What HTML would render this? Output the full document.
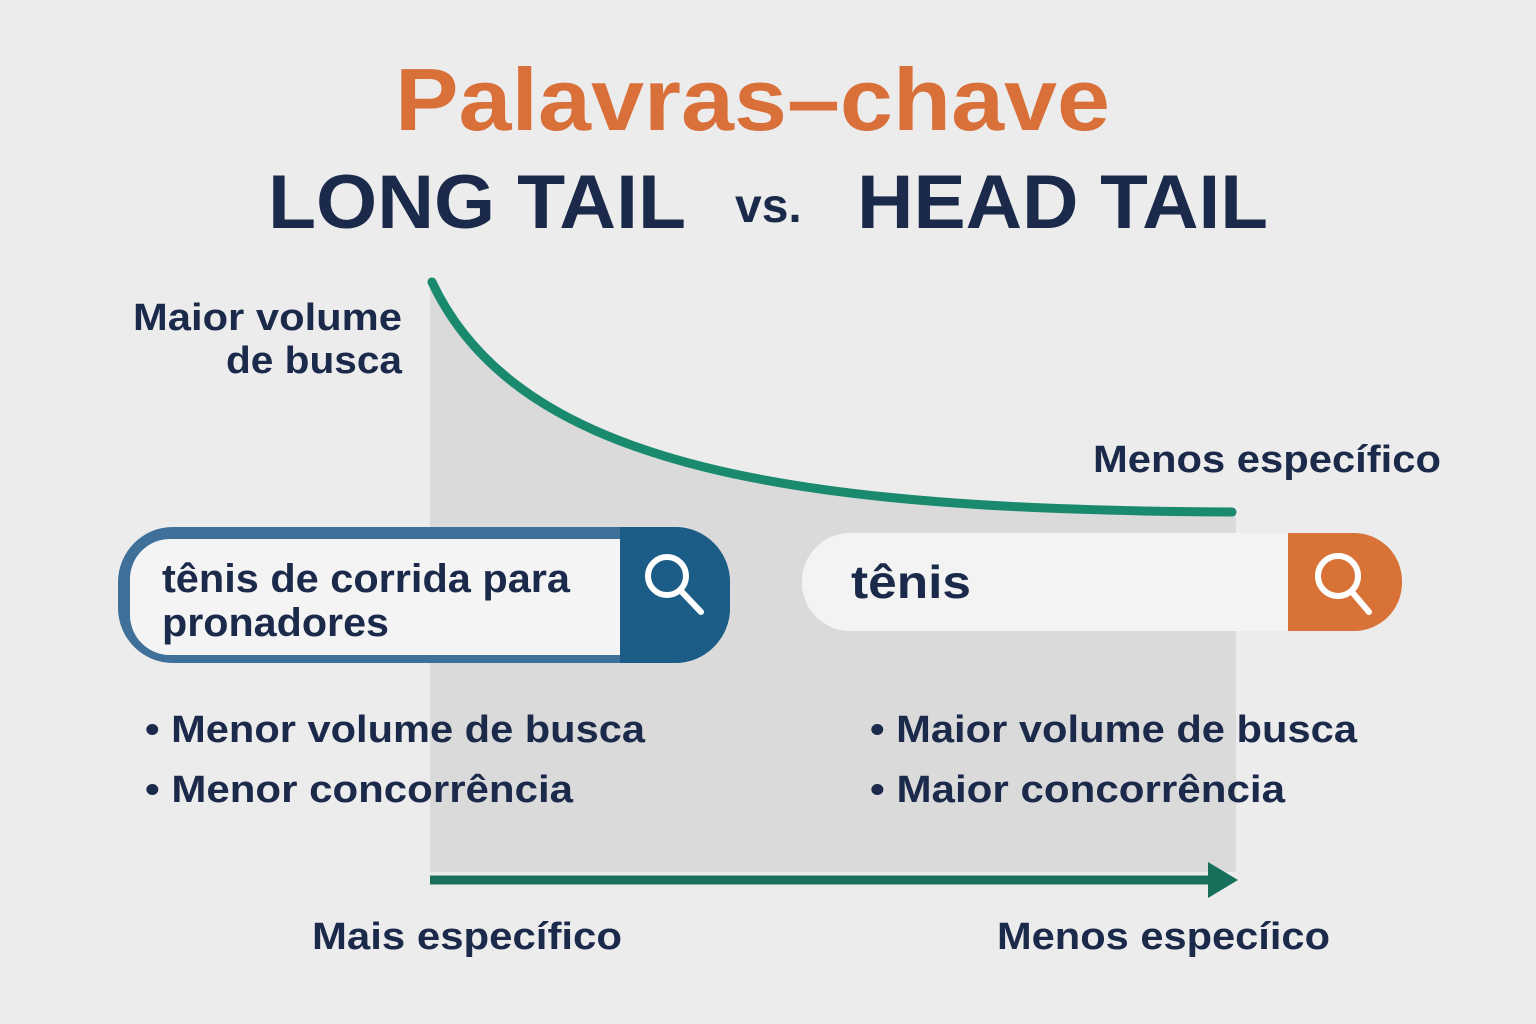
<!DOCTYPE html>
<html><head><meta charset="utf-8"><style>
html,body{margin:0;padding:0;background:#ececec;}
svg{display:block;}
text{font-family:"Liberation Sans",sans-serif;font-weight:bold;}
</style></head><body>
<svg width="1536" height="1024" viewBox="0 0 1536 1024">
<rect width="1536" height="1024" fill="#ececec"/>
<path d="M430,285 C520,470 800,510 1236,512 L1236,872 L430,872 Z" fill="#dadada"/>
<path d="M432,282 C520,470 800,510 1232,512" fill="none" stroke="#1a8a6e" stroke-width="9" stroke-linecap="round"/>
<line x1="430" y1="880" x2="1212" y2="880" stroke="#17705c" stroke-width="9"/>
<polygon points="1208,862 1238,880 1208,898" fill="#17705c"/>
<text x="395" y="130" font-size="88" fill="#d9703a" textLength="715" lengthAdjust="spacingAndGlyphs">Palavras–chave</text>
<text x="268" y="228" font-size="76" fill="#1b2a4a" textLength="418" lengthAdjust="spacingAndGlyphs">LONG TAIL</text>
<text x="735" y="222" font-size="48" fill="#1b2a4a">vs.</text>
<text x="857" y="228" font-size="76" fill="#1b2a4a" textLength="411" lengthAdjust="spacingAndGlyphs">HEAD TAIL</text>
<text x="133" y="330" font-size="38" fill="#1b2a4a" textLength="269" lengthAdjust="spacingAndGlyphs">Maior volume</text>
<text x="226" y="373" font-size="38" fill="#1b2a4a" textLength="176" lengthAdjust="spacingAndGlyphs">de busca</text>
<text x="1093" y="472" font-size="38" fill="#1b2a4a" textLength="348" lengthAdjust="spacingAndGlyphs">Menos específico</text>
<!-- left search -->
<rect x="118" y="527" width="612" height="136" rx="55" fill="#3e7099"/>
<path d="M620,527 H675 A55,55 0 0 1 730,582 V608 A55,55 0 0 1 675,663 H620 Z" fill="#1c5d87"/>
<path d="M170,539 H620 V655 H170 A40,40 0 0 1 130,615 V579 A40,40 0 0 1 170,539 Z" fill="#f4f4f4"/>
<text x="162" y="592" font-size="40" fill="#1b2a4a" textLength="408" lengthAdjust="spacingAndGlyphs">tênis de corrida para</text>
<text x="162" y="636" font-size="40" fill="#1b2a4a" textLength="227" lengthAdjust="spacingAndGlyphs">pronadores</text>
<circle cx="667" cy="576" r="19" fill="none" stroke="#fff" stroke-width="6"/>
<line x1="681" y1="591" x2="701" y2="612" stroke="#fff" stroke-width="6" stroke-linecap="round"/>
<!-- right search -->
<path d="M850,533 H1354 A48,48 0 0 1 1402,581 V583 A48,48 0 0 1 1354,631 H850 A48,48 0 0 1 802,583 V581 A48,48 0 0 1 850,533 Z" fill="#f3f3f3"/>
<path d="M1288,533 H1354 A48,48 0 0 1 1402,581 V583 A48,48 0 0 1 1354,631 H1288 Z" fill="#d87236"/>
<text x="851" y="598" font-size="46" fill="#1b2a4a" textLength="120" lengthAdjust="spacingAndGlyphs">tênis</text>
<circle cx="1338" cy="576" r="20" fill="none" stroke="#fff" stroke-width="6"/>
<line x1="1352" y1="592" x2="1369" y2="612" stroke="#fff" stroke-width="6" stroke-linecap="round"/>
<!-- bullets -->
<text x="145" y="742" font-size="38" fill="#1b2a4a" textLength="500" lengthAdjust="spacingAndGlyphs">• Menor volume de busca</text>
<text x="145" y="802" font-size="38" fill="#1b2a4a" textLength="428" lengthAdjust="spacingAndGlyphs">• Menor concorrência</text>
<text x="870" y="742" font-size="38" fill="#1b2a4a" textLength="487" lengthAdjust="spacingAndGlyphs">• Maior volume de busca</text>
<text x="870" y="802" font-size="38" fill="#1b2a4a" textLength="415" lengthAdjust="spacingAndGlyphs">• Maior concorrência</text>
<text x="312" y="949" font-size="38" fill="#1b2a4a" textLength="310" lengthAdjust="spacingAndGlyphs">Mais específico</text>
<text x="997" y="949" font-size="38" fill="#1b2a4a" textLength="333" lengthAdjust="spacingAndGlyphs">Menos especíico</text>
</svg>
</body></html>
